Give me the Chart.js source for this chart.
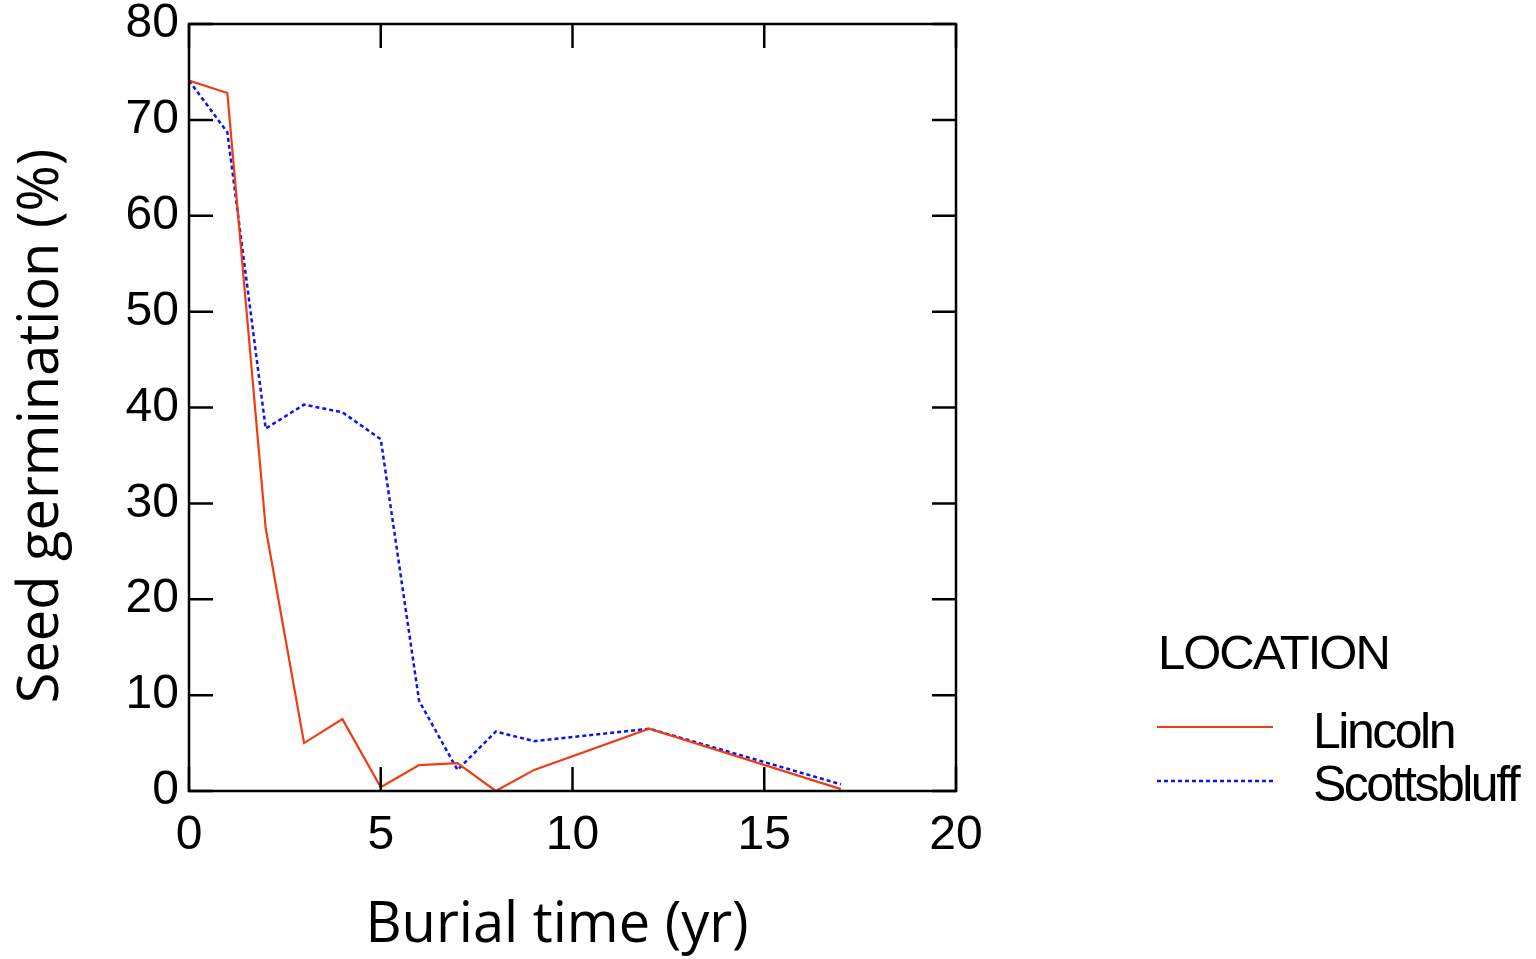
<!DOCTYPE html>
<html>
<head>
<meta charset="utf-8">
<script src="https://cdn.jsdelivr.net/npm/chart.js@4"></script>
<style>
  html, body { margin: 0; padding: 0; background: #fff; }
  #wrap { width: 1536px; height: 959px; }
</style>
</head>
<body>
<div id="wrap"><canvas id="germChart" width="1536" height="959"></canvas></div>
<script>
// burial time (yr)
const lincolnYears = [0, 1, 2, 3, 4, 5, 6, 7, 8, 9, 12, 17];
const lincolnGerm = [74.1, 72.8, 27.4, 5.0, 7.5, 0.4, 2.7, 2.9, 0.0, 2.2, 6.5, 0.2];

const scottsYears = [0, 1, 2, 3, 4, 5, 6, 7, 8, 9, 12, 17];
const scottsGerm = [74.1, 68.7, 37.8, 40.3, 39.5, 36.7, 9.4, 2.2, 6.2, 5.2, 6.5, 0.7];

const xTicks = [0, 5, 10, 15, 20];
const yTicks = [0, 10, 20, 30, 40, 50, 60, 70, 80];

const xTitle = 'Burial time (yr)';
const yTitle = 'Seed germination (%)';
const legendTitle = 'LOCATION';
const seriesNames = ['Lincoln', 'Scottsbluff'];

const tickFont = { family: 'Liberation Sans', size: 48 };

function toPoints(xs, ys) {
    return xs.map((x, i) => ({ x: x, y: ys[i] }));
}

// frame + inward mirrored ticks
const framePlugin = {
    id: 'frame',
    afterDraw(chart) {
        const ctx = chart.ctx;
        const a = chart.chartArea;
        const xs = chart.scales.x;
        const ys = chart.scales.y;
        const len = 24;
        ctx.save();
        ctx.strokeStyle = '#000';
        ctx.lineWidth = 2.5;
        ctx.beginPath();
        xTicks.forEach(v => {
            const px = xs.getPixelForValue(v);
            ctx.moveTo(px, a.bottom); ctx.lineTo(px, a.bottom - len);
            ctx.moveTo(px, a.top); ctx.lineTo(px, a.top + len);
        });
        yTicks.forEach(v => {
            const py = ys.getPixelForValue(v);
            ctx.moveTo(a.left, py); ctx.lineTo(a.left + len, py);
            ctx.moveTo(a.right, py); ctx.lineTo(a.right - len, py);
        });
        ctx.stroke();
        ctx.strokeRect(a.left, a.top, a.right - a.left, a.bottom - a.top);
        ctx.restore();
    }
};

// axis titles (placed a little off-centre, like the original)
const axisTitlePlugin = {
    id: 'axisTitles',
    afterDraw(chart) {
        const ctx = chart.ctx;
        ctx.save();
        ctx.fillStyle = '#000';
        ctx.font = '56px "Open Sans"';
        ctx.textAlign = 'center';
        ctx.textBaseline = 'alphabetic';
        ctx.fillText(xTitle, 557, 942);
        ctx.translate(58, 426);
        ctx.rotate(-Math.PI / 2);
        ctx.fillText(yTitle, 0, 0);
        ctx.restore();
    }
};

// legend on the right
const legendPlugin = {
    id: 'sideLegend',
    afterDraw(chart) {
        const ctx = chart.ctx;
        ctx.save();
        ctx.fillStyle = '#000';
        ctx.textAlign = 'left';
        ctx.textBaseline = 'alphabetic';
        ctx.letterSpacing = '-2px';
        ctx.font = '49px "Liberation Sans"';
        ctx.fillText(legendTitle, 1158, 669);
        const rows = [{ y: 727, base: 748 }, { y: 781, base: 801 }];
        ctx.letterSpacing = '-2.5px';
        chart.data.datasets.forEach((ds, i) => {
            const r = rows[i];
            ctx.strokeStyle = ds.borderColor;
            ctx.lineWidth = ds.borderWidth;
            ctx.setLineDash(ds.borderDash || []);
            ctx.beginPath();
            ctx.moveTo(1157, r.y);
            ctx.lineTo(1273, r.y);
            ctx.stroke();
            ctx.setLineDash([]);
            ctx.font = '50px "Liberation Sans"';
            ctx.fillText(ds.label, 1313, r.base);
        });
        ctx.restore();
    }
};

const ctx = document.getElementById('germChart').getContext('2d');
const germChart = new Chart(ctx, {
    type: 'line',
    data: {
        datasets: [{
            label: seriesNames[0],
            data: toPoints(lincolnYears, lincolnGerm),
            borderColor: '#f03c14',
            borderWidth: 2.2,
            pointRadius: 0,
            tension: 0,
            fill: false
        }, {
            label: seriesNames[1],
            data: toPoints(scottsYears, scottsGerm),
            borderColor: '#0a14f0',
            borderWidth: 2.5,
            borderDash: [4, 3],
            pointRadius: 0,
            tension: 0,
            fill: false
        }]
    },
    options: {
        responsive: false,
        animation: false,
        events: [],
        layout: { padding: { top: 24, right: 580, left: 0, bottom: 0 } },
        plugins: {
            legend: { display: false },
            tooltip: { enabled: false }
        },
        scales: {
            x: {
                type: 'linear',
                min: 0,
                max: 20,
                afterFit(scale) {
                    scale.height = 168;
                    scale.paddingLeft = 0;
                    scale.paddingRight = 0;
                },
                afterBuildTicks(scale) { scale.ticks = xTicks.map(v => ({ value: v })); },
                grid: { display: false, drawTicks: false },
                border: { display: false },
                ticks: { color: '#000', font: tickFont, padding: 16, maxRotation: 0 }
            },
            y: {
                type: 'linear',
                min: 0,
                max: 80,
                afterFit(scale) {
                    scale.width = 189;
                    scale.paddingTop = 0;
                    scale.paddingBottom = 0;
                },
                afterBuildTicks(scale) { scale.ticks = yTicks.map(v => ({ value: v })); },
                grid: { display: false, drawTicks: false },
                border: { display: false },
                ticks: { color: '#000', font: tickFont, padding: 10 }
            }
        }
    },
    plugins: [framePlugin, axisTitlePlugin, legendPlugin]
});
</script>
</body>
</html>
